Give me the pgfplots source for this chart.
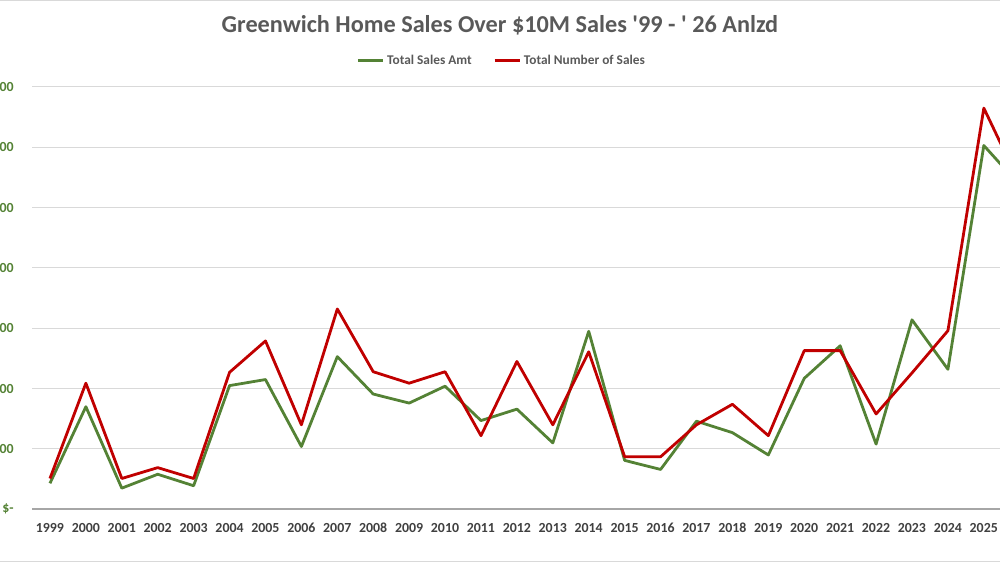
\documentclass[border=0pt]{standalone}
\usepackage{fontspec}
\setmainfont{Carlito}
\usepackage{pgfplots}
\pgfplotsset{compat=1.18}
\definecolor{sgreen}{HTML}{548235}
\definecolor{sred}{HTML}{C00000}
\definecolor{gridc}{HTML}{D9D9D9}
\definecolor{txt}{HTML}{595959}
\definecolor{ticktxt}{HTML}{404040}
\definecolor{axc}{HTML}{A6A6A6}
\begin{document}
\begin{tikzpicture}[x=0.75pt,y=0.75pt]
\useasboundingbox (0,0) rectangle (1000,563);
\draw[gridc, line width=0.75pt] (-10,562) -- (1010,562);
\draw[gridc, line width=0.75pt] (-10,1.5) -- (1010,1.5);
\begin{axis}[
  at={(24pt,40.3pt)}, anchor=south west,
  scale only axis, width=726pt, height=316.7pt,
  xmin=1998.5, xmax=2025.45, ymin=0, ymax=7,
  axis line style={draw=none},
  ymajorgrids, grid style={gridc, line width=0.75pt},
  major tick length=0pt,
  xtick={1999,...,2025},
  ytick={0,...,7},
  yticklabels={\$-,00,00,00,00,00,00,00},
  /pgf/number format/.cd, 1000 sep={}, assume math mode=true,
  /pgfplots/.cd,
  xticklabel style={font=\fontsize{10.4}{12}\selectfont\bfseries, color=ticktxt, anchor=center, inner sep=0pt, yshift=-14pt},
  yticklabel style={font=\fontsize{10.4}{12}\selectfont\bfseries, color=sgreen, anchor=east, inner sep=0pt, xshift=-13.5pt},
  legend style={at={(rel axis cs:0.4855,1.0628)}, anchor=center, draw=none, fill=none,
    font=\fontsize{10}{12}\selectfont\bfseries, text=txt, legend columns=2,
    /tikz/every even column/.append style={column sep=14pt}},
  legend image code/.code={\draw[#1] (0pt,0pt) -- (19pt,0pt);},
  every axis plot/.append style={line width=2.1pt, line join=round, no markers},
]
\addplot[sgreen] coordinates {
(1999,0.43) (2000,1.70) (2001,0.35) (2002,0.58) (2003,0.39) (2004,2.05) (2005,2.15)
(2006,1.04) (2007,2.53) (2008,1.91) (2009,1.76) (2010,2.04) (2011,1.47) (2012,1.66)
(2013,1.10) (2014,2.95) (2015,0.81) (2016,0.66) (2017,1.46) (2018,1.27) (2019,0.90)
(2020,2.17) (2021,2.71) (2022,1.08) (2023,3.14) (2024,2.32) (2025,6.03) (2026,5.37)};
\addlegendentry{Total Sales Amt}
\addplot[sred] coordinates {
(1999,0.51) (2000,2.09) (2001,0.51) (2002,0.69) (2003,0.51) (2004,2.27) (2005,2.79)
(2006,1.40) (2007,3.32) (2008,2.28) (2009,2.09) (2010,2.28) (2011,1.22) (2012,2.45)
(2013,1.40) (2014,2.61) (2015,0.87) (2016,0.87) (2017,1.40) (2018,1.74) (2019,1.22)
(2020,2.63) (2021,2.63) (2022,1.58) (2023,2.26) (2024,2.96) (2025,6.65) (2026,5.40)};
\addlegendentry{Total Number of Sales}
\draw[axc, line width=1.5pt] (rel axis cs:0,0) -- (rel axis cs:1,0);
\end{axis}
\node[anchor=base, font=\fontsize{18.2}{22}\selectfont\bfseries, text=txt, inner sep=0pt] at (500,530)
  {Greenwich Home Sales Over \$10M Sales \textquotesingle99 - \textquotesingle\ 26 Anlzd};
\end{tikzpicture}
\end{document}
